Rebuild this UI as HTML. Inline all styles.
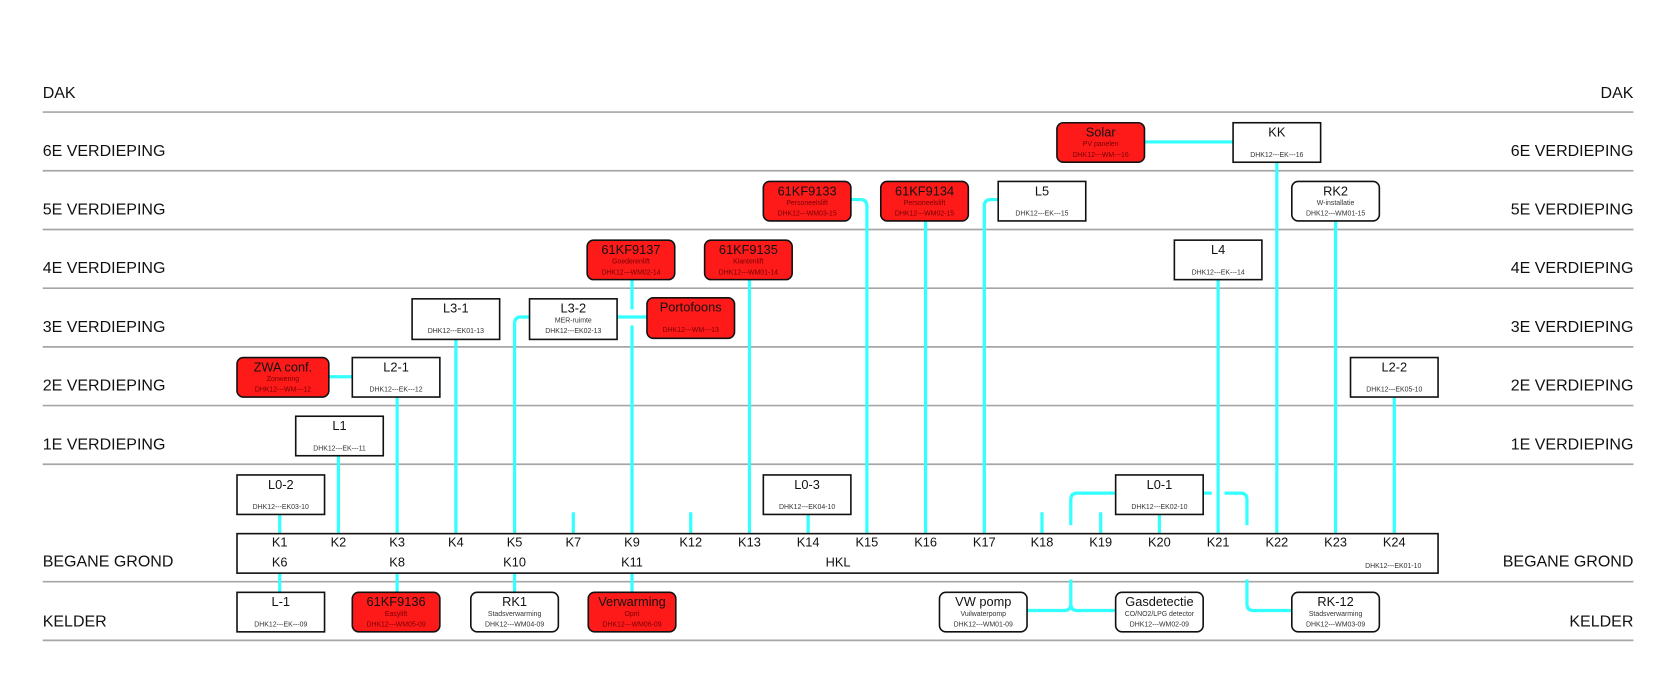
<!DOCTYPE html>
<html><head><meta charset="utf-8"><style>
html,body{margin:0;padding:0;background:#fff;}
svg{display:block;font-family:"Liberation Sans",Arial,sans-serif;}
.fl{font-size:15px;fill:#111;}
.gl{stroke:#a6a6a6;stroke-width:1.6;}
.c{stroke:#33ffff;stroke-width:3;fill:none;}
.r{fill:#ff1a1a;stroke:#111;stroke-width:1.5;}
.w{fill:#fff;stroke:#111;stroke-width:1.5;}
.t{font-size:12px;text-anchor:middle;fill:#111;}
.s{font-size:6.5px;text-anchor:middle;fill:#333;}
.sr{font-size:6.5px;text-anchor:middle;fill:#700;}
.k{font-size:12px;text-anchor:middle;fill:#111;}
</style></head><body>
<svg width="1674" height="682" viewBox="0 0 1568 639" preserveAspectRatio="none" xmlns="http://www.w3.org/2000/svg">
<g class="gl">
<line x1="40" y1="105" x2="1530" y2="105"/><line x1="40" y1="160" x2="1530" y2="160"/>
<line x1="40" y1="215" x2="1530" y2="215"/><line x1="40" y1="270" x2="1530" y2="270"/>
<line x1="40" y1="325" x2="1530" y2="325"/><line x1="40" y1="380" x2="1530" y2="380"/>
<line x1="40" y1="435" x2="1530" y2="435"/><line x1="40" y1="545" x2="1530" y2="545"/>
<line x1="40" y1="600" x2="1530" y2="600"/>
</g>
<g class="fl">
<text x="40" y="92">DAK</text><text x="40" y="146">6E VERDIEPING</text><text x="40" y="201">5E VERDIEPING</text>
<text x="40" y="256">4E VERDIEPING</text><text x="40" y="311">3E VERDIEPING</text><text x="40" y="366">2E VERDIEPING</text>
<text x="40" y="421">1E VERDIEPING</text><text x="40" y="531">BEGANE GROND</text><text x="40" y="587">KELDER</text>
</g>
<g class="fl" text-anchor="end">
<text x="1530" y="92">DAK</text><text x="1530" y="146">6E VERDIEPING</text><text x="1530" y="201">5E VERDIEPING</text>
<text x="1530" y="256">4E VERDIEPING</text><text x="1530" y="311">3E VERDIEPING</text><text x="1530" y="366">2E VERDIEPING</text>
<text x="1530" y="421">1E VERDIEPING</text><text x="1530" y="531">BEGANE GROND</text><text x="1530" y="587">KELDER</text>
</g>
<!-- connections -->
<g class="c">
<path d="M262 482V500M262 537V555M317 427V500M372 372V500M372 537V555M427 318V500M482 537V555M592 537V555"/>
<path d="M496 297H488Q482 297 482 303V500"/>
<path d="M592 262V290M592 305V500M578 297H606"/>
<path d="M537 480V500M647 480V500M976 480V500M1031 480V500"/>
<path d="M702 262V500M757 482V500M867 207V500M1086 482V500M1141 262V500M1196 152V500M1251 207V500M1306 372V500"/>
<path d="M797 187H806Q812 187 812 193V500"/>
<path d="M935 187H928Q922 187 922 193V500"/>
<path d="M1072 133H1155M308 353H330"/>
<path d="M1045 462H1009Q1003 462 1003 468V492M1003 507V527M1003 543V566Q1003 572 997 572H962M1003 566Q1003 572 1009 572H1045"/>
<path d="M1127 462H1135M1147 462H1162Q1168 462 1168 468V492M1168 507V527M1168 543V566Q1168 572 1174 572H1210"/>
</g>
<!-- HKL -->
<rect class="w" x="222" y="500" width="1125" height="37"/>
<g class="k">
<text x="262" y="512">K1</text><text x="317" y="512">K2</text><text x="372" y="512">K3</text><text x="427" y="512">K4</text>
<text x="482" y="512">K5</text><text x="537" y="512">K7</text><text x="592" y="512">K9</text><text x="647" y="512">K12</text>
<text x="702" y="512">K13</text><text x="757" y="512">K14</text><text x="812" y="512">K15</text><text x="867" y="512">K16</text>
<text x="922" y="512">K17</text><text x="976" y="512">K18</text><text x="1031" y="512">K19</text><text x="1086" y="512">K20</text>
<text x="1141" y="512">K21</text><text x="1196" y="512">K22</text><text x="1251" y="512">K23</text><text x="1306" y="512">K24</text>
<text x="262" y="531">K6</text><text x="372" y="531">K8</text><text x="482" y="531">K10</text><text x="592" y="531">K11</text>
<text x="785" y="531">HKL</text>
</g>
<text class="s" x="1305" y="532">DHK12---EK01-10</text>
<!-- red boxes -->
<g>
<rect class="r" x="222" y="335" width="86" height="37" rx="6"/><text class="t" x="265" y="348">ZWA conf.</text><text class="sr" x="265" y="357">Zonwering</text><text class="sr" x="265" y="367">DHK12---WM---12</text>
<rect class="r" x="606" y="279" width="82" height="38" rx="6"/><text class="t" x="647" y="292">Portofoons</text><text class="sr" x="647" y="311">DHK12---WM---13</text>
<rect class="r" x="550" y="225" width="82" height="37" rx="6"/><text class="t" x="591" y="238">61KF9137</text><text class="sr" x="591" y="247">Goederenlift</text><text class="sr" x="591" y="257">DHK12---WM02-14</text>
<rect class="r" x="660" y="225" width="82" height="37" rx="6"/><text class="t" x="701" y="238">61KF9135</text><text class="sr" x="701" y="247">Klantenlift</text><text class="sr" x="701" y="257">DHK12---WM01-14</text>
<rect class="r" x="715" y="170" width="82" height="37" rx="6"/><text class="t" x="756" y="183">61KF9133</text><text class="sr" x="756" y="192">Personeelslift</text><text class="sr" x="756" y="202">DHK12---WM03-15</text>
<rect class="r" x="825" y="170" width="82" height="37" rx="6"/><text class="t" x="866" y="183">61KF9134</text><text class="sr" x="866" y="192">Personeelslift</text><text class="sr" x="866" y="202">DHK12---WM02-15</text>
<rect class="r" x="990" y="115" width="82" height="37" rx="6"/><text class="t" x="1031" y="128">Solar</text><text class="sr" x="1031" y="137">PV panelen</text><text class="sr" x="1031" y="147">DHK12---WM---16</text>
<rect class="r" x="330" y="555" width="82" height="37" rx="6"/><text class="t" x="371" y="568">61KF9136</text><text class="sr" x="371" y="577">Easylift</text><text class="sr" x="371" y="587">DHK12---WM05-09</text>
<rect class="r" x="551" y="555" width="82" height="37" rx="6"/><text class="t" x="592" y="568">Verwarming</text><text class="sr" x="592" y="577">Oprit</text><text class="sr" x="592" y="587">DHK12---WM06-09</text>
</g>
<!-- white square boxes -->
<g>
<rect class="w" x="330" y="335" width="82" height="37"/><text class="t" x="371" y="348">L2-1</text><text class="s" x="371" y="367">DHK12---EK---12</text>
<rect class="w" x="386" y="280" width="82" height="38"/><text class="t" x="427" y="293">L3-1</text><text class="s" x="427" y="312">DHK12---EK01-13</text>
<rect class="w" x="496" y="280" width="82" height="38"/><text class="t" x="537" y="293">L3-2</text><text class="s" x="537" y="302">MER-ruimte</text><text class="s" x="537" y="312">DHK12---EK02-13</text>
<rect class="w" x="277" y="390" width="82" height="37"/><text class="t" x="318" y="403">L1</text><text class="s" x="318" y="422">DHK12---EK---11</text>
<rect class="w" x="222" y="445" width="82" height="37"/><text class="t" x="263" y="458">L0-2</text><text class="s" x="263" y="477">DHK12---EK03-10</text>
<rect class="w" x="715" y="445" width="82" height="37"/><text class="t" x="756" y="458">L0-3</text><text class="s" x="756" y="477">DHK12---EK04-10</text>
<rect class="w" x="1045" y="445" width="82" height="37"/><text class="t" x="1086" y="458">L0-1</text><text class="s" x="1086" y="477">DHK12---EK02-10</text>
<rect class="w" x="935" y="170" width="82" height="37"/><text class="t" x="976" y="183">L5</text><text class="s" x="976" y="202">DHK12---EK---15</text>
<rect class="w" x="1155" y="115" width="82" height="37"/><text class="t" x="1196" y="128">KK</text><text class="s" x="1196" y="147">DHK12---EK---16</text>
<rect class="w" x="1100" y="225" width="82" height="37"/><text class="t" x="1141" y="238">L4</text><text class="s" x="1141" y="257">DHK12---EK---14</text>
<rect class="w" x="1265" y="335" width="82" height="37"/><text class="t" x="1306" y="348">L2-2</text><text class="s" x="1306" y="367">DHK12---EK05-10</text>
<rect class="w" x="222" y="555" width="82" height="37"/><text class="t" x="263" y="568">L-1</text><text class="s" x="263" y="587">DHK12---EK---09</text>
</g>
<!-- white rounded boxes -->
<g>
<rect class="w" x="1210" y="170" width="82" height="37" rx="6"/><text class="t" x="1251" y="183">RK2</text><text class="s" x="1251" y="192">W-installatie</text><text class="s" x="1251" y="202">DHK12---WM01-15</text>
<rect class="w" x="441" y="555" width="82" height="37" rx="6"/><text class="t" x="482" y="568">RK1</text><text class="s" x="482" y="577">Stadsverwarming</text><text class="s" x="482" y="587">DHK12---WM04-09</text>
<rect class="w" x="880" y="555" width="82" height="37" rx="6"/><text class="t" x="921" y="568">VW pomp</text><text class="s" x="921" y="577">Vuilwaterpomp</text><text class="s" x="921" y="587">DHK12---WM01-09</text>
<rect class="w" x="1045" y="555" width="82" height="37" rx="6"/><text class="t" x="1086" y="568">Gasdetectie</text><text class="s" x="1086" y="577">CO/NO2/LPG detector</text><text class="s" x="1086" y="587">DHK12---WM02-09</text>
<rect class="w" x="1210" y="555" width="82" height="37" rx="6"/><text class="t" x="1251" y="568">RK-12</text><text class="s" x="1251" y="577">Stadsverwarming</text><text class="s" x="1251" y="587">DHK12---WM03-09</text>
</g>
</svg>
</body></html>
